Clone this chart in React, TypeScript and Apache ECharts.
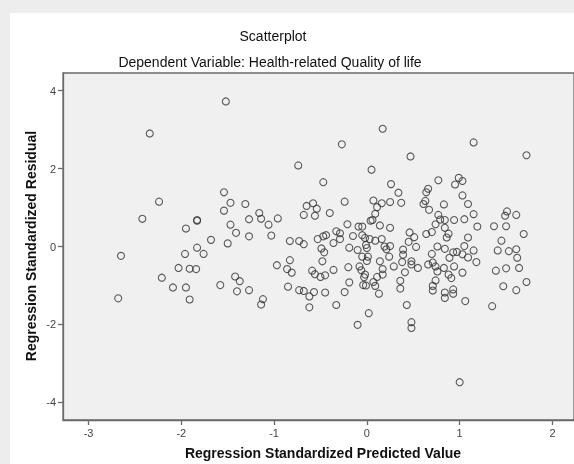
import React, { useEffect, useRef } from "react";
import * as echarts from "echarts";

const chartTitle = "Scatterplot";
const chartSubtitle = "Dependent Variable: Health-related Quality of life";
const xAxisTitle = "Regression Standardized Predicted Value";
const yAxisTitle = "Regression Standardized Residual";

const xTicks = [-3, -2, -1, 0, 1, 2];
const yTicks = [-4, -2, 0, 2, 4];

const predictedValues = [
  -2.68, -2.65, -2.34, -2.42, -2.24, -2.21, -2.09, -2.03, -1.95, -1.96,
  -1.95, -1.91, -1.91, -1.84, -1.83, -1.83, -1.83, -1.76, -1.52, -1.54,
  -1.47, -1.31, -1.54, -1.16, -1.14, -1.27, -0.96, -1.06, -1.47, -1.41,
  -1.27, -1.03, -1.68, -1.50, -0.83, -0.73, -0.68, -0.74, -0.65, -0.58,
  -0.54, -0.68, -0.56, -0.53, -0.83, -0.97, -0.86, -0.81, -0.59, -0.56,
  -1.42, -1.37, -1.58, -1.40, -1.27, -1.12, -1.14, -0.85, -0.73, -0.68,
  -0.57, -0.62, -0.62, -0.27, -0.47, 0.05, 0.47, 0.17, 0.77, 0.26,
  0.34, 0.66, 0.64, -0.24, 0.07, 0.16, 0.25, 0.37, 0.63, 0.61,
  0.67, 0.11, 0.09, -0.40, 0.77, 0.79, 0.74, 0.70, 0.64, 0.06,
  0.04, 0.14, 0.25, 0.46, 0.51, 0.45, 0.53, -0.21, -0.09, -0.05,
  -0.33, -0.29, -0.29, -0.15, -0.05, -0.02, 0.03, 0.09, 0.16, -0.44,
  -0.47, -0.36, -0.49, -0.46, -0.19, -0.10, -0.01, 0.00, 0.19, 0.25,
  0.21, 0.39, 0.39, 0.24, 0.14, 0.29, 0.38, 0.48, 0.48, 0.55,
  0.66, 0.71, -0.05, 0.01, 0.00, -0.48, -0.20, -0.08, -0.06, -0.36,
  0.17, 0.17, 0.11, -0.45, -0.50, -0.02, -0.03, 0.41, 0.36, 0.36,
  0.71, 0.71, 0.74, -0.19, -0.04, -0.01, 0.07, 0.09, 0.13, -0.24,
  -0.45, -0.33, 0.02, -0.10, 0.43, 0.48, 0.48, 1.15, 1.72, 0.99,
  1.03, 0.95, 1.03, 1.09, 0.83, 1.15, 1.51, 1.49, 1.61, 0.84,
  0.94, 1.05, 1.19, 1.37, 1.50, 1.69, 0.84, 0.88, 0.86, 1.09,
  1.45, 1.41, 1.53, 1.61, 1.62, 1.05, 1.15, 1.09, 1.03, 0.97,
  0.93, 0.89, 0.84, 0.76, 1.18, 0.94, 0.83, 0.76, 1.03, 0.88,
  0.91, 0.84, 0.84, 0.93, 0.93, 1.06, 1.39, 1.50, 1.64, 1.47,
  1.61, 1.72, 1.35, 1.00, 0.74, 0.70,
];

const residuals = [
  -1.33, -0.24, 2.90, 0.71, 1.15, -0.80, -1.05, -0.55, -1.05, -0.19,
  0.46, -0.57, -1.36, -0.58, 0.66, 0.68, -0.03, -0.19, 3.72, 1.39,
  1.12, 1.09, 0.92, 0.86, 0.71, 0.70, 0.72, 0.56, 0.56, 0.35,
  0.26, 0.28, 0.17, 0.08, 0.14, 0.14, 0.06, 2.08, 1.04, 1.11,
  0.97, 0.81, 0.79, 0.19, -0.35, -0.48, -0.58, -0.67, -0.62, -0.71,
  -0.77, -0.89, -0.99, -1.15, -1.12, -1.35, -1.49, -1.03, -1.12, -1.14,
  -1.17, -1.28, -1.56, 2.62, 1.65, 1.97, 2.31, 3.02, 1.70, 1.60,
  1.38, 1.48, 1.39, 1.15, 1.18, 1.11, 1.14, 1.12, 1.17, 1.09,
  0.94, 1.01, 0.84, 0.86, 0.81, 0.69, 0.57, 0.37, 0.32, 0.68,
  0.66, 0.54, 0.48, 0.36, 0.24, 0.12, -0.01, 0.57, 0.51, 0.51,
  0.39, 0.34, 0.19, 0.27, 0.29, 0.22, 0.19, 0.15, 0.19, 0.29,
  0.26, 0.09, -0.05, -0.15, -0.03, -0.09, 0.04, -0.04, 0.00, 0.01,
  -0.07, -0.08, -0.21, -0.26, -0.38, -0.51, -0.40, -0.38, -0.46, -0.55,
  -0.46, -0.41, -0.26, -0.26, -0.37, -0.38, -0.53, -0.51, -0.61, -0.60,
  -0.58, -0.72, -0.78, -0.74, -0.78, -0.72, -0.79, -0.66, -0.88, -1.08,
  -1.01, -1.13, -0.87, -0.92, -0.99, -1.00, -0.91, -1.01, -1.21, -1.17,
  -1.18, -1.50, -1.71, -2.01, -1.50, -1.94, -2.09, 2.67, 2.34, 1.76,
  1.68, 1.59, 1.31, 1.09, 1.08, 0.83, 0.90, 0.79, 0.81, 0.68,
  0.68, 0.70, 0.51, 0.52, 0.52, 0.32, 0.48, 0.33, 0.23, 0.23,
  0.15, -0.10, -0.12, -0.07, -0.29, 0.01, -0.10, -0.28, -0.20, -0.14,
  -0.15, -0.29, -0.06, 0.00, -0.40, -0.51, -0.55, -0.64, -0.67, -0.72,
  -0.81, -1.18, -1.32, -1.10, -1.21, -1.40, -0.62, -0.56, -0.55, -1.02,
  -1.12, -0.91, -1.53, -3.48, -0.51, -0.19,
];

const FONT = "'Liberation Sans', Arial, Helvetica, sans-serif";

export default function App() {
  const ref = useRef<HTMLDivElement>(null);

  useEffect(() => {
    if (!ref.current) return;
    const chart = echarts.init(ref.current, undefined, { renderer: "svg" });
    const n = Math.min(predictedValues.length, residuals.length);
    const points: number[][] = [];
    for (let i = 0; i < n; i++) points.push([predictedValues[i], residuals[i]]);

    chart.setOption({
      animation: false,
      backgroundColor: "transparent",
      graphic: [
        {
          type: "rect",
          z: -100,
          silent: true,
          shape: { x: 0, y: 0, width: 574, height: 464 },
          style: { fill: "#ededed" },
        },
        {
          type: "rect",
          z: -99,
          silent: true,
          shape: { x: 10, y: 13, width: 570, height: 460 },
          style: { fill: "#ffffff" },
        },
        {
          type: "text",
          x: 273,
          y: 36,
          style: {
            text: chartTitle,
            font: `14px ${FONT}`,
            fill: "#111",
            align: "center",
            verticalAlign: "middle",
          },
        },
        {
          type: "text",
          x: 270,
          y: 62,
          style: {
            text: chartSubtitle,
            font: `14px ${FONT}`,
            fill: "#111",
            align: "center",
            verticalAlign: "middle",
          },
        },
        {
          type: "text",
          x: 323,
          y: 453,
          style: {
            text: xAxisTitle,
            font: `bold 14px ${FONT}`,
            fill: "#111",
            align: "center",
            verticalAlign: "middle",
          },
        },
        {
          type: "text",
          x: 31,
          y: 246,
          rotation: Math.PI / 2,
          style: {
            text: yAxisTitle,
            font: `bold 14px ${FONT}`,
            fill: "#111",
            align: "center",
            verticalAlign: "middle",
          },
        },
      ],
      grid: {
        left: 63,
        top: 73,
        right: -3,
        bottom: 44,
        show: true,
        backgroundColor: "#f0f0f0",
        borderColor: "#6a6a6a",
        borderWidth: 1.3,
      },
      xAxis: {
        type: "value",
        min: -3.275,
        max: 2.232,
        splitLine: { show: false },
        axisLine: { show: true, onZero: false, lineStyle: { color: "#6a6a6a", width: 1.3 } },
        axisTick: {
          show: true,
          inside: false,
          length: 5,
          customValues: xTicks,
          lineStyle: { color: "#6a6a6a", width: 1.3 },
        },
        axisLabel: {
          customValues: xTicks,
          margin: 7,
          color: "#444",
          fontSize: 11,
          fontFamily: FONT,
          showMinLabel: true,
          showMaxLabel: true,
        },
      },
      yAxis: {
        type: "value",
        min: -4.45,
        max: 4.45,
        splitLine: { show: false },
        axisLine: { show: true, onZero: false, lineStyle: { color: "#6a6a6a", width: 1.3 } },
        axisTick: {
          show: true,
          inside: false,
          length: 5,
          customValues: yTicks,
          lineStyle: { color: "#6a6a6a", width: 1.3 },
        },
        axisLabel: {
          customValues: yTicks,
          margin: 7,
          color: "#444",
          fontSize: 11,
          fontFamily: FONT,
        },
      },
      series: [
        {
          type: "scatter",
          data: points,
          symbol: "circle",
          symbolSize: 7,
          itemStyle: {
            color: "rgba(0,0,0,0)",
            borderColor: "#333",
            borderWidth: 1.1,
          },
          emphasis: { disabled: true },
        },
      ],
    });

    return () => chart.dispose();
  }, []);

  return (
    <div
      ref={ref}
      style={{ position: "fixed", left: 0, top: 0, width: 574, height: 464 }}
    />
  );
}
